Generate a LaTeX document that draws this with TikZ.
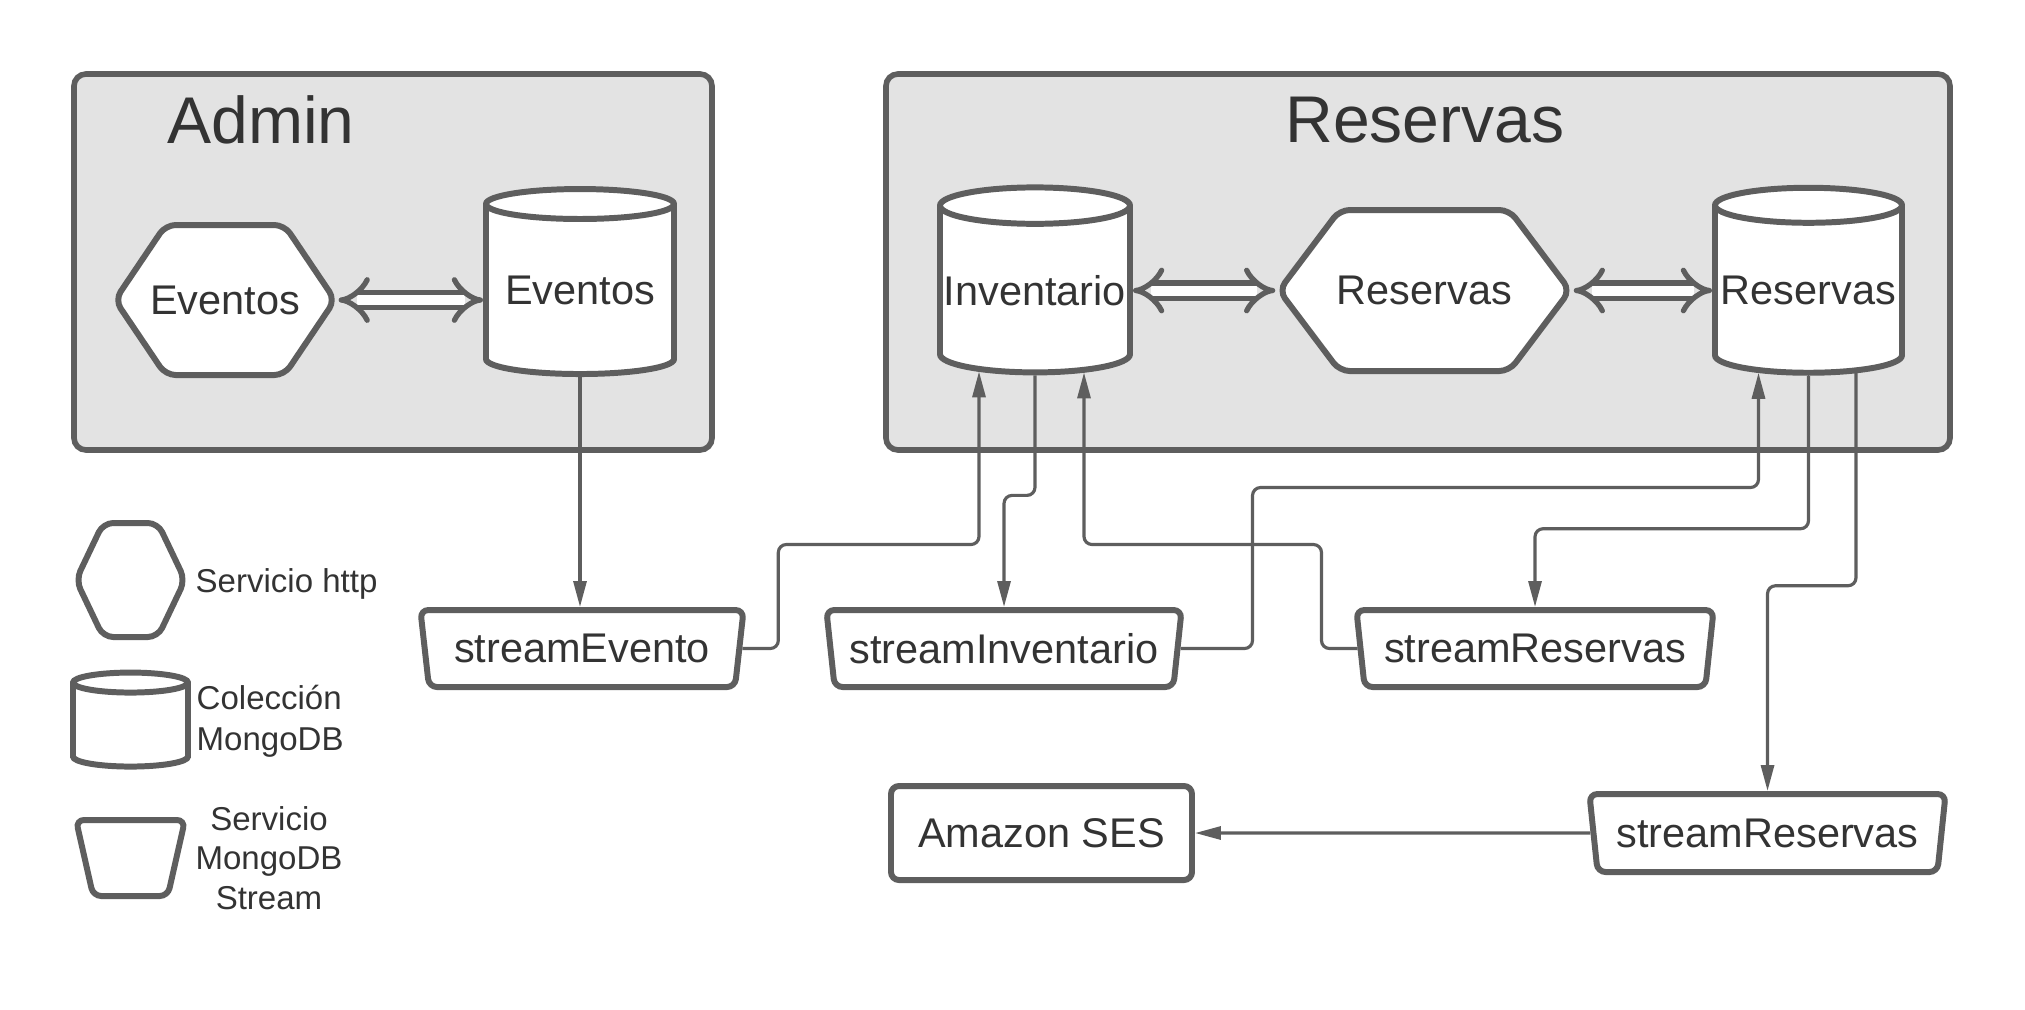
\documentclass[tikz,border=0pt]{standalone}
\usepackage{fontspec}
\setmainfont{Liberation Sans}
\usetikzlibrary{shapes.geometric,shapes.symbols,arrows.meta}

\definecolor{linegray}{HTML}{5E5E5E}
\definecolor{groupgray}{HTML}{E3E3E3}
\definecolor{textgray}{HTML}{333333}

\tikzstyle{group} = [rectangle, rounded corners=0.12cm, draw=linegray, line width=1.6pt, fill=groupgray]
\tikzstyle{title} = [text=textgray, font=\fontsize{18.8}{22}\selectfont]
\tikzstyle{nodetext} = [text=textgray, font=\fontsize{11.8}{14}\selectfont]
\tikzstyle{service} = [signal, signal to=east and west, rounded corners=0.1cm, draw=linegray, line width=1.7pt, fill=white, inner sep=0pt]
\tikzstyle{collection} = [cylinder, shape border rotate=90, aspect=0.2, draw=linegray, line width=1.7pt, fill=white, inner sep=0pt, nodetext]
\tikzstyle{stream} = [trapezium, shape border rotate=180, trapezium left angle=80, trapezium right angle=80, trapezium stretches=true, rounded corners=0.08cm, draw=linegray, line width=1.7pt, fill=white, inner sep=2pt, nodetext]
\tikzstyle{external} = [rectangle, rounded corners=0.08cm, draw=linegray, line width=1.7pt, fill=white, nodetext]
\tikzstyle{legend} = [inner sep=0pt, text=textgray, font=\fontsize{9.4}{11.7}\selectfont]
\tikzstyle{arrow} = [line width=0.9pt, draw=linegray, rounded corners=0.08cm, ->, >={Triangle[length=0.26cm,width=0.13cm]}]
\tikzstyle{dblarrow} = [line width=1.5pt, draw=linegray, double=white, double distance=0.1cm, {Implies[scale=1.4]}-{Implies[scale=1.4]}]

\begin{document}
\begin{tikzpicture}[node distance=1cm]
	\useasboundingbox (0,0) rectangle (20.25,-10.09);
		\node (admin) [group, minimum width=6.38cm, minimum height=3.76cm] at (3.93,-2.62) {};
		\node (reservas) [group, minimum width=10.64cm, minimum height=3.76cm] at (14.18,-2.62) {};
		\node (tadmin) [title] at (2.61,-1.20) {Admin};
		\node (treservas) [title] at (14.25,-1.20) {Reservas};
		
		\node (hexE) [service, signal pointer angle=112, minimum width=2.2cm, minimum height=1.5cm, label={[nodetext]center:Eventos}] at (2.25,-3.00) {};
		\node (cylE) [collection, minimum width=1.88cm, minimum height=1.85cm, right of=hexE, xshift=2.55cm, yshift=0.095cm] {Eventos};
		\node (cylI) [collection, minimum width=1.9cm, minimum height=1.85cm] at (10.35,-2.905) {Inventario};
		\node (hexR) [service, signal pointer angle=106, minimum width=2.91cm, minimum height=1.61cm, label={[nodetext]center:Reservas}] at (14.245,-2.905) {};
		\node (cylR) [collection, minimum width=1.87cm, minimum height=1.85cm] at (18.085,-2.905) {Reservas};
		
		\node (sEvento) [stream, minimum width=3.24cm, minimum height=0.77cm] at (5.82,-6.485) {streamEvento};
		\node (sInv) [stream, minimum width=3.58cm, minimum height=0.77cm, right of=sEvento, xshift=3.22cm] {streamInventario};
		\node (sRes1) [stream, minimum width=3.58cm, minimum height=0.77cm, right of=sInv, xshift=4.31cm] {streamReservas};
		\node (sRes2) [stream, minimum width=3.57cm, minimum height=0.78cm] at (17.675,-8.33) {streamReservas};
		\node (ses) [external, minimum width=3.01cm, minimum height=0.94cm] at (10.415,-8.33) {Amazon SES};
		
		\node (lhex) [service, signal pointer angle=129, minimum width=1.09cm, minimum height=1.14cm] at (1.305,-5.80) {};
		\node (lcyl) [collection, inner xsep=0.5cm, inner ysep=0.1cm, minimum width=1.15cm, minimum height=0.94cm, below of=lhex, yshift=-0.51cm] {};
		\node (lstream) [stream, trapezium left angle=77, trapezium right angle=77, minimum width=1.09cm, minimum height=0.76cm, below of=lcyl, yshift=-0.27cm] {};
		\node (thttp) [legend, anchor=west] at (1.95,-5.84) {Servicio http};
		\node (tcol) [legend, anchor=west, align=left] at (1.96,-7.21) {Colección\\MongoDB};
		\node (tstream) [legend, align=center, font=\fontsize{9.4}{11.2}\selectfont] at (2.69,-8.58) {Servicio\\MongoDB\\Stream};
		
		\draw [dblarrow] (hexE.east) -- (hexE.east -| cylE.west);
		\draw [dblarrow] (cylI.east |- hexR.west) -- (hexR.west);
		\draw [dblarrow] (hexR.east) -- (hexR.east -| cylR.west);
		
		\draw [arrow] (cylE.south) -- (cylE.south |- sEvento.north);
		\draw [arrow] (sEvento.east) -- ++(0.36,0) -- ++(0,1.04) -| ([xshift=-0.56cm,yshift=0.04cm]cylI.south);
		\draw [arrow] (cylI.south) -- ++(0,-1.2) -| (sInv.north);
		\draw [arrow] (sInv.east) -- ++(0.72,0) -- ++(0,1.61) -| ([xshift=-0.50cm,yshift=0.03cm]cylR.south);
		\draw [arrow] (sRes1.west) -- ++(-0.36,0) -- ++(0,1.04) -| ([xshift=0.49cm,yshift=0.03cm]cylI.south);
		\draw [arrow] (cylR.south) -- ++(0,-1.53) -| (sRes1.north);
		\draw [arrow] ([xshift=0.475cm,yshift=0.03cm]cylR.south) -- ++(0,-2.13) -| (sRes2.north);
		\draw [arrow] (sRes2.west) -- (ses.east);
	
	\end{tikzpicture}
\end{document}
